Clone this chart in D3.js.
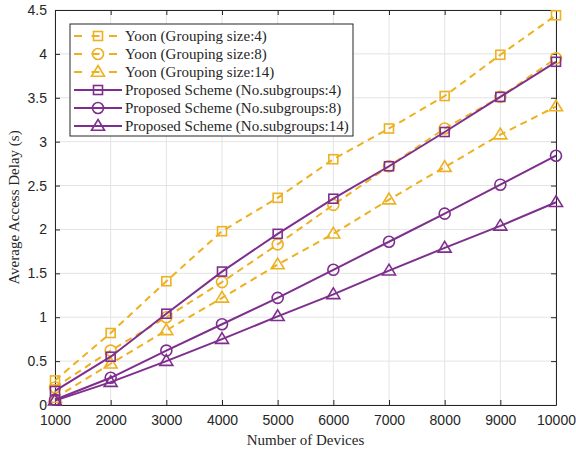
<!DOCTYPE html>
<html>
<head>
<meta charset="utf-8">
<script src="https://cdn.jsdelivr.net/npm/d3@7"></script>
<style>
  body { margin: 0; background: #fff; }
  .tick text { font-family: "Liberation Sans", Arial, sans-serif; font-size: 14px; fill: #262626; }
  text.lbl { font-family: "Liberation Serif", "Times New Roman", Times, serif; font-size: 15px; fill: #262626; }
</style>
</head>
<body>
<div id="chart"></div>
<script>
// dados
const devices = [1000, 2000, 3000, 4000, 5000, 6000, 7000, 8000, 9000, 10000];
const yoon4 = [0.28, 0.82, 1.41, 1.98, 2.36, 2.80, 3.15, 3.52, 3.99, 4.44];
const yoon8 = [0.20, 0.62, 1.00, 1.40, 1.83, 2.28, 2.72, 3.15, 3.51, 3.95];
const yoon14 = [0.08, 0.47, 0.85, 1.22, 1.60, 1.95, 2.34, 2.71, 3.08, 3.40];
const prop4 = [0.16, 0.55, 1.04, 1.52, 1.95, 2.35, 2.72, 3.11, 3.51, 3.91];
const prop8 = [0.06, 0.31, 0.62, 0.92, 1.22, 1.54, 1.86, 2.18, 2.51, 2.84];
const prop14 = [0.05, 0.26, 0.50, 0.75, 1.01, 1.26, 1.53, 1.79, 2.04, 2.31];
const yTicks = [0, 0.5, 1, 1.5, 2, 2.5, 3, 3.5, 4, 4.5];

const YELLOW = '#EDB120', PURPLE = '#7E2F8E';
const series = [
  { name: 'Yoon (Grouping size:4)', values: yoon4, color: YELLOW, dash: '7,5', marker: 'square' },
  { name: 'Yoon (Grouping size:8)', values: yoon8, color: YELLOW, dash: '7,5', marker: 'circle' },
  { name: 'Yoon (Grouping size:14)', values: yoon14, color: YELLOW, dash: '7,5', marker: 'triangle' },
  { name: 'Proposed Scheme (No.subgroups:4)', values: prop4, color: PURPLE, dash: null, marker: 'square' },
  { name: 'Proposed Scheme (No.subgroups:8)', values: prop8, color: PURPLE, dash: null, marker: 'circle' },
  { name: 'Proposed Scheme (No.subgroups:14)', values: prop14, color: PURPLE, dash: null, marker: 'triangle' }
];

const width = 576, height = 451;
const m = { left: 55, right: 20, top: 10, bottom: 46 };
const svg = d3.select('#chart').append('svg').attr('width', width).attr('height', height);

const x = d3.scaleLinear().domain([1000, 10000]).range([m.left, width - m.right]);
const y = d3.scaleLinear().domain([0, 4.5]).range([height - m.bottom, m.top]);

// grade
svg.append('g').selectAll('line').data(devices).enter().append('line')
  .attr('x1', d => x(d)).attr('x2', d => x(d)).attr('y1', y(0)).attr('y2', y(4.5))
  .attr('stroke', '#e3e3e3').attr('stroke-width', 1);
svg.append('g').selectAll('line').data(yTicks).enter().append('line')
  .attr('x1', x(1000)).attr('x2', x(10000)).attr('y1', d => y(d)).attr('y2', d => y(d))
  .attr('stroke', '#e3e3e3').attr('stroke-width', 1);

// eixos (ticks para dentro, estilo MATLAB)
const axStyle = g => { g.select('.domain').attr('stroke', '#262626'); g.selectAll('.tick line').attr('stroke', '#262626'); };
svg.append('g').attr('transform', `translate(0,${y(0)})`)
  .call(d3.axisBottom(x).tickValues(devices).tickFormat(d3.format('d')).tickSizeInner(-5).tickSizeOuter(0).tickPadding(10))
  .call(axStyle);
svg.append('g').attr('transform', `translate(0,${y(4.5)})`)
  .call(d3.axisTop(x).tickValues(devices).tickFormat('').tickSizeInner(-5).tickSizeOuter(0))
  .call(axStyle);
svg.append('g').attr('transform', `translate(${x(1000)},0)`)
  .call(d3.axisLeft(y).tickValues(yTicks).tickFormat(d => d).tickSizeInner(-5).tickSizeOuter(0).tickPadding(8))
  .call(axStyle);
svg.append('g').attr('transform', `translate(${x(10000)},0)`)
  .call(d3.axisRight(y).tickValues(yTicks).tickFormat('').tickSizeInner(-5).tickSizeOuter(0))
  .call(axStyle);

svg.append('text').attr('class', 'lbl').attr('x', x(5500)).attr('y', height - 6)
  .attr('text-anchor', 'middle').text('Number of Devices');
svg.append('text').attr('class', 'lbl').attr('transform', 'rotate(-90)')
  .attr('x', -y(2.25)).attr('y', 19).attr('text-anchor', 'middle').text('Average Access Delay (s)');

function drawMarker(g, type, cx, cy, color) {
  if (type === 'square') {
    g.append('rect').attr('x', cx - 4.5).attr('y', cy - 4.5).attr('width', 9).attr('height', 9)
      .attr('fill', 'none').attr('stroke', color).attr('stroke-width', 1.6);
  } else if (type === 'circle') {
    g.append('circle').attr('cx', cx).attr('cy', cy).attr('r', 5.5)
      .attr('fill', 'none').attr('stroke', color).attr('stroke-width', 1.6);
  } else {
    const s = 6.5;
    g.append('path').attr('d', `M${cx},${cy - s}L${cx + s},${cy + s * 0.65}L${cx - s},${cy + s * 0.65}Z`)
      .attr('fill', 'none').attr('stroke', color).attr('stroke-width', 1.6);
  }
}

const line = d3.line().x((d, i) => x(devices[i])).y(d => y(d));
series.forEach(s => {
  const g = svg.append('g');
  g.append('path').datum(s.values).attr('d', line).attr('fill', 'none')
    .attr('stroke', s.color).attr('stroke-width', 2).attr('stroke-dasharray', s.dash);
  s.values.forEach((v, i) => drawMarker(g, s.marker, x(devices[i]), y(v), s.color));
});

// legenda
const lg = svg.append('g');
lg.append('rect').attr('x', 70).attr('y', 24).attr('width', 283).attr('height', 112)
  .attr('fill', '#fff').attr('stroke', '#262626').attr('stroke-width', 1);
series.forEach((s, i) => {
  const yy = 36 + i * 18;
  lg.append('line').attr('x1', 74).attr('x2', 122).attr('y1', yy).attr('y2', yy)
    .attr('stroke', s.color).attr('stroke-width', 2).attr('stroke-dasharray', s.dash ? '8,9.5' : null);
  drawMarker(lg, s.marker, 98, yy, s.color);
  lg.append('text').attr('class', 'lbl').attr('x', 125).attr('y', yy + 5).text(s.name);
});
</script>
</body>
</html>
